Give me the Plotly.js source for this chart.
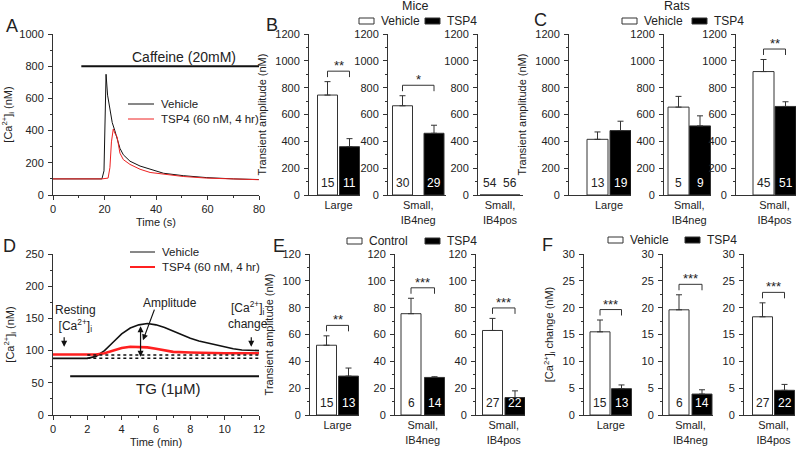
<!DOCTYPE html>
<html><head><meta charset="utf-8">
<script src="https://cdn.plot.ly/plotly-3.0.1.min.js"></script>
<style>body{margin:0;background:#fff}#chart{width:800px;height:454px}</style>
</head><body><div id="chart"></div>
<script>
// ---------- DATA ----------
// Panel A: caffeine-evoked transient
const caffTimeVeh = [0,5,10,15,19,19.8,20.3,20.6,21.2,22.1,23,24,25,26,27.3,29.9,33.8,37.7,42.9,50.6,59.7,70.1,79.9];
const caffVehicle = [100,101,100,101,100,150,650,750,620,540,450,400,340,290,250,210,180,160,135,120,108,100,96];
const caffTimeTSP4 = [0,5,10,15,19,21.4,22.1,22.7,23.4,24,24.9,26,27.3,29.9,33.8,37.7,42.9,50.6,59.7,70.1,79.9];
const caffTSP4 = [100,100,101,100,100,105,170,330,410,385,360,260,220,190,160,140,128,115,105,98,95];
const caffeineStart = 11, caffeineEnd = 80, caffeineLevel = 800;

// Panel D: thapsigargin
const tgTimeVeh = [0,1,2,2.5,3,3.5,4,4.5,5,5.5,6,6.5,7,7.5,8,8.5,9,9.5,10,10.5,11,11.5,12];
const tgVehicle = [88,88,88,91,100,113,126,135,140,142,140,136,130,124,119,115,112,109,105,103,101,100,100];
const tgTimeTSP4 = [0,1,2,2.5,3,3.5,4,4.5,5,5.5,6,6.5,7,8,9,10,11,12];
const tgTSP4 = [94,94,94,94,96,100,104,106,106,105,103,100,98,97,96,96,96,96];
const tgStart = 1, tgEnd = 12, tgLevel = 60;

// Bar panels
const groups = ["Large", "Small,<br>IB4neg", "Small,<br>IB4pos"];

const miceVehicle = [745, 665, 0],  miceVehicleErr = [100, 75, 0];
const miceTSP4    = [360, 460, 0],  miceTSP4Err    = [60, 60, 0];
const miceNVeh = [15, 30, 54], miceNTSP4 = [11, 29, 56];
const miceSig = ["**", "*", ""];

const ratsVehicle = [415, 655, 920], ratsVehicleErr = [55, 80, 90];
const ratsTSP4    = [480, 515, 660], ratsTSP4Err    = [70, 75, 35];
const ratsNVeh = [13, 5, 45], ratsNTSP4 = [19, 9, 51];
const ratsSig = ["", "", "**"];

const ampControl = [52, 75.5, 63], ampControlErr = [7, 11.5, 9];
const ampTSP4    = [29, 28, 13],   ampTSP4Err    = [6, 0.5, 5];
const ampNCtl = [15, 6, 27], ampNTSP4 = [13, 14, 22];
const ampSig = ["**", "***", "***"];

const chgVehicle = [15.5, 19.6, 18.3], chgVehicleErr = [2.2, 2.8, 2.6];
const chgTSP4    = [4.9, 3.9, 4.6],    chgTSP4Err    = [0.7, 0.8, 1.1];
const chgNVeh = [15, 6, 27], chgNTSP4 = [13, 14, 22];
const chgSig = ["***", "***", "***"];

// ---------- LAYOUT HELPERS ----------
const W = 800, H = 454;
const PX = x => x / W, PY = y => 1 - y / H;
const FONT = "Liberation Sans, Arial, sans-serif";
const TXT = "#222";

const traces = [];
const shapes = [];
const annotations = [];
const layout = {
  width: W, height: H, margin: {l:0, r:0, t:0, b:0},
  paper_bgcolor: "white", plot_bgcolor: "white",
  showlegend: false, barmode: "overlay",
  font: {family: FONT, size: 11, color: TXT},
};

function yAxisBase(range, dtick, minor, top, bottom, anchor) {
  return {
    domain: [PY(bottom), PY(top)], range: range, anchor: anchor,
    showline: true, linecolor: "#333", linewidth: 1,
    ticks: "outside", ticklen: 4, tickcolor: "#333", tickwidth: 1,
    dtick: dtick, tick0: 0, showgrid: false, zeroline: false,
    minor: {ticks: "outside", ticklen: 2, dtick: minor, tick0: 0, tickcolor: "#333"},
    tickfont: {size: 11, color: TXT, family: FONT}, ticklabelstandoff: 2
  };
}

function text(x, y, t, size, opts) {
  annotations.push(Object.assign({xref: "paper", yref: "paper", x: PX(x), y: PY(y), text: t,
    showarrow: false, font: {size: size, color: TXT, family: FONT}, xanchor: "center", yanchor: "middle"}, opts || {}));
}

let axIdx = 1;

// ---------- PANEL A ----------
layout.xaxis = {domain: [PX(53), PX(259)], range: [0, 80], anchor: "y",
  showline: true, linecolor: "#333", ticks: "outside", ticklen: 4, tickcolor: "#333", dtick: 20,
  minor: {ticks: "outside", ticklen: 2, dtick: 10, tickcolor: "#333"},
  showgrid: false, zeroline: false, tickfont: {size: 11, color: TXT},
  title: {text: "Time (s)", font: {size: 11, color: TXT}, standoff: 4}};
layout.yaxis = Object.assign(yAxisBase([0, 1000], 200, 100, 34, 195, "x"),
  {title: {text: "[Ca<sup>2+</sup>]<sub>i</sub> (nM)", font: {size: 11, color: TXT}, standoff: 8}});
traces.push({type: "scatter", mode: "lines", x: caffTimeVeh, y: caffVehicle, xaxis: "x", yaxis: "y",
  line: {color: "#111", width: 1}, hoverinfo: "skip"});
traces.push({type: "scatter", mode: "lines", x: caffTimeTSP4, y: caffTSP4, xaxis: "x", yaxis: "y",
  line: {color: "#ee2222", width: 1}, hoverinfo: "skip"});
shapes.push({type: "line", xref: "x", yref: "y", x0: caffeineStart, x1: caffeineEnd, y0: caffeineLevel, y1: caffeineLevel,
  line: {color: "#111", width: 2}});
text(184, 57, "Caffeine (20mM)", 14);
shapes.push({type: "line", xref: "paper", yref: "paper", x0: PX(128), x1: PX(154), y0: PY(104), y1: PY(104), line: {color: "#111", width: 1}});
shapes.push({type: "line", xref: "paper", yref: "paper", x0: PX(128), x1: PX(154), y0: PY(119), y1: PY(119), line: {color: "#ee2222", width: 1}});
text(159, 104, "Vehicle", 11.5, {xanchor: "left"});
text(159, 119, "TSP4 (60 nM, 4 hr)", 11.5, {xanchor: "left"});
text(12, 26, "A", 18);

// ---------- PANEL D ----------
axIdx = 2;
const dX = "x2", dY = "y2";
layout.xaxis2 = {domain: [PX(53), PX(259)], range: [0, 12], anchor: "y2",
  showline: true, linecolor: "#333", ticks: "outside", ticklen: 4, tickcolor: "#333", dtick: 2,
  minor: {ticks: "outside", ticklen: 2, dtick: 1, tickcolor: "#333"},
  showgrid: false, zeroline: false, tickfont: {size: 11, color: TXT},
  title: {text: "Time (min)", font: {size: 11, color: TXT}, standoff: 4}};
layout.yaxis2 = Object.assign(yAxisBase([0, 250], 50, 25, 254, 415, "x2"),
  {title: {text: "[Ca<sup>2+</sup>]<sub>i</sub> (nM)", font: {size: 11, color: TXT}, standoff: 8}});
// dotted resting levels
shapes.push({type: "line", xref: dX, yref: dY, x0: 2, x1: 12, y0: tgVehicle[0], y1: tgVehicle[0], line: {color: "#111", width: 1.5, dash: "dot"}});
shapes.push({type: "line", xref: dX, yref: dY, x0: 2, x1: 12, y0: tgTSP4[0] - 1, y1: tgTSP4[0] - 1, line: {color: "#111", width: 1.5, dash: "dot"}});
traces.push({type: "scatter", mode: "lines", x: tgTimeVeh, y: tgVehicle, xaxis: dX, yaxis: dY,
  line: {color: "#111", width: 1.6}, hoverinfo: "skip"});
traces.push({type: "scatter", mode: "lines", x: tgTimeTSP4, y: tgTSP4, xaxis: dX, yaxis: dY,
  line: {color: "#ff2020", width: 2.6}, hoverinfo: "skip"});
shapes.push({type: "line", xref: dX, yref: dY, x0: tgStart, x1: tgEnd, y0: tgLevel, y1: tgLevel, line: {color: "#111", width: 2}});
text(168, 388, "TG (1μM)", 15);
shapes.push({type: "line", xref: "paper", yref: "paper", x0: PX(130), x1: PX(155), y0: PY(252), y1: PY(252), line: {color: "#111", width: 1}});
shapes.push({type: "line", xref: "paper", yref: "paper", x0: PX(130), x1: PX(155), y0: PY(267), y1: PY(267), line: {color: "#ff2020", width: 2}});
text(160, 252, "Vehicle", 11.5, {xanchor: "left"});
text(160, 267, "TSP4 (60 nM, 4 hr)", 11.5, {xanchor: "left"});
text(75, 318, "Resting<br>[Ca<sup>2+</sup>]<sub>i</sub>", 12);
text(248, 315, "[Ca<sup>2+</sup>]<sub>i</sub><br>change", 12);
text(170, 303, "Amplitude", 12);
const arrowStyle = {showarrow: true, arrowhead: 2, arrowsize: 1, arrowwidth: 1.2, arrowcolor: "#111", text: ""};
annotations.push(Object.assign({xref: dX, yref: dY, x: 0.65, y: 106, ax: 0, ay: -11}, arrowStyle));
annotations.push(Object.assign({xref: dX, yref: dY, x: 11.55, y: 106, ax: 0, ay: -11}, arrowStyle));
annotations.push(Object.assign({xref: dX, yref: dY, x: 5.24, y: 116, axref: dX, ayref: dY, ax: 5.94, ay: 166}, arrowStyle));
annotations.push(Object.assign({xref: dX, yref: dY, x: 5.1, y: 138, axref: dX, ayref: dY, ax: 5.1, ay: tgVehicle[0], arrowside: "end+start"}, arrowStyle));
text(9, 246, "D", 18);

// ---------- BAR PANELS ----------
function barPanel(cfg) {
  for (let g = 0; g < 3; g++) {
    axIdx++;
    const xa = "x" + axIdx, ya = "y" + axIdx;
    const aL = cfg.axL[g], aR = cfg.axR[g], c1 = cfg.c1[g], c2 = cfg.c2[g];
    const unit = c2 - c1;
    const bw = cfg.barPx / unit;
    layout["xaxis" + axIdx] = {domain: [PX(aL), PX(aR)], range: [(aL - c1) / unit, (aR - c1) / unit],
      anchor: ya, showline: true, linecolor: "#333", linewidth: 1, ticks: "", showgrid: false, zeroline: false,
      tickvals: [0.5], ticktext: [groups[g]], tickfont: {size: 11, color: TXT}, ticklabelstandoff: 0};
    const yax = yAxisBase([0, cfg.yMax], cfg.dtick, cfg.minor, cfg.top, cfg.bottom, xa);
    if (g === 0) yax.title = {text: cfg.ytitle, font: {size: 11, color: TXT}, standoff: 6};
    layout["yaxis" + axIdx] = yax;
    const errStyle = (e) => ({type: "data", symmetric: false, array: [e], arrayminus: [0], color: "#333", thickness: 1, width: 3, visible: e > 0});
    traces.push({type: "bar", x: [0], y: [cfg.v1[g]], width: [bw], xaxis: xa, yaxis: ya,
      marker: {color: "white", line: {color: "#333", width: 1}}, error_y: errStyle(cfg.e1[g]), hoverinfo: "skip"});
    traces.push({type: "bar", x: [1], y: [cfg.v2[g]], width: [bw], xaxis: xa, yaxis: ya,
      marker: {color: "black", line: {color: "#333", width: 1}}, error_y: errStyle(cfg.e2[g]), hoverinfo: "skip"});
    annotations.push({xref: xa, yref: ya, x: 0, y: 0, yanchor: "bottom", yshift: 3, text: String(cfg.n1[g]),
      showarrow: false, font: {size: 12, color: "#222", family: FONT}});
    annotations.push({xref: xa, yref: ya, x: 1, y: 0, yanchor: "bottom", yshift: 3, text: String(cfg.n2[g]),
      showarrow: false, font: {size: 12, color: cfg.v2[g] > 0 ? "white" : "#222", family: FONT}});
    if (cfg.sig[g]) {
      const topVal = Math.max(cfg.v1[g] + cfg.e1[g], cfg.v2[g] + cfg.e2[g]);
      const yb = topVal + 0.065 * cfg.yMax, d = 0.037 * cfg.yMax;
      shapes.push({type: "path", xref: xa, yref: ya, path: `M 0,${yb - d} L 0,${yb} L 1,${yb} L 1,${yb - d}`,
        line: {color: "#333", width: 1}});
      annotations.push({xref: xa, yref: ya, x: 0.5, y: yb, yanchor: "bottom", yshift: -4, text: cfg.sig[g],
        showarrow: false, font: {size: 13, color: "#222", family: FONT}});
    }
  }
  // legend
  const L = cfg.legend;
  shapes.push({type: "rect", xref: "paper", yref: "paper", x0: PX(L.b1), x1: PX(L.b1 + 15), y0: PY(L.y + 3), y1: PY(L.y - 3),
    fillcolor: "white", line: {color: "#333", width: 1}});
  shapes.push({type: "rect", xref: "paper", yref: "paper", x0: PX(L.b2), x1: PX(L.b2 + 15), y0: PY(L.y + 3), y1: PY(L.y - 3),
    fillcolor: "black", line: {color: "#333", width: 1}});
  text(L.b1 + 20, L.y, L.t1, 12, {xanchor: "left"});
  text(L.b2 + 20, L.y, "TSP4", 12, {xanchor: "left"});
  text(L.lx, L.ly, L.letter, 18);
}

barPanel({axL: [309, 388, 478], axR: [360, 446, 523], c1: [327.5, 402.5, 490], c2: [349.5, 434, 510], barPx: 20,
  top: 34, bottom: 195, yMax: 1200, dtick: 200, minor: 100, ytitle: "Transient amplitude (nM)",
  v1: miceVehicle, e1: miceVehicleErr, v2: miceTSP4, e2: miceTSP4Err, n1: miceNVeh, n2: miceNTSP4, sig: miceSig,
  legend: {b1: 359, b2: 425, y: 21, t1: "Vehicle", letter: "B", lx: 272, ly: 25}});
barPanel({axL: [569, 664, 736], axR: [631, 711, 796], c1: [597.5, 678.5, 763.5], c2: [620.5, 700, 785.5], barPx: 21,
  top: 34, bottom: 195, yMax: 1200, dtick: 200, minor: 100, ytitle: "Transient amplitude (nM)",
  v1: ratsVehicle, e1: ratsVehicleErr, v2: ratsTSP4, e2: ratsTSP4Err, n1: ratsNVeh, n2: ratsNTSP4, sig: ratsSig,
  legend: {b1: 622, b2: 692, y: 21, t1: "Vehicle", letter: "C", lx: 540, ly: 20}});
barPanel({axL: [310, 395, 476], axR: [359, 445, 525], c1: [326.5, 411, 492.5], c2: [348.5, 434.5, 515], barPx: 20,
  top: 254, bottom: 415, yMax: 120, dtick: 20, minor: 10, ytitle: "Transient amplitude (nM)",
  v1: ampControl, e1: ampControlErr, v2: ampTSP4, e2: ampTSP4Err, n1: ampNCtl, n2: ampNTSP4, sig: ampSig,
  legend: {b1: 347, b2: 425, y: 241, t1: "Control", letter: "E", lx: 279, ly: 246}});
barPanel({axL: [584, 663, 744], axR: [632, 713, 795], c1: [600, 679, 762.5], c2: [621.5, 702, 784.5], barPx: 20,
  top: 254, bottom: 415, yMax: 30, dtick: 5, minor: 2.5, ytitle: "[Ca<sup>2+</sup>]<sub>i</sub> change (nM)",
  v1: chgVehicle, e1: chgVehicleErr, v2: chgTSP4, e2: chgTSP4Err, n1: chgNVeh, n2: chgNTSP4, sig: chgSig,
  legend: {b1: 608, b2: 685, y: 240, t1: "Vehicle", letter: "F", lx: 547, ly: 245}});

text(415, 6, "Mice", 12.5);
text(677, 6, "Rats", 12.5);

layout.shapes = shapes;
layout.annotations = annotations;
Plotly.newPlot("chart", traces, layout, {staticPlot: true, displayModeBar: false});
</script></body></html>
